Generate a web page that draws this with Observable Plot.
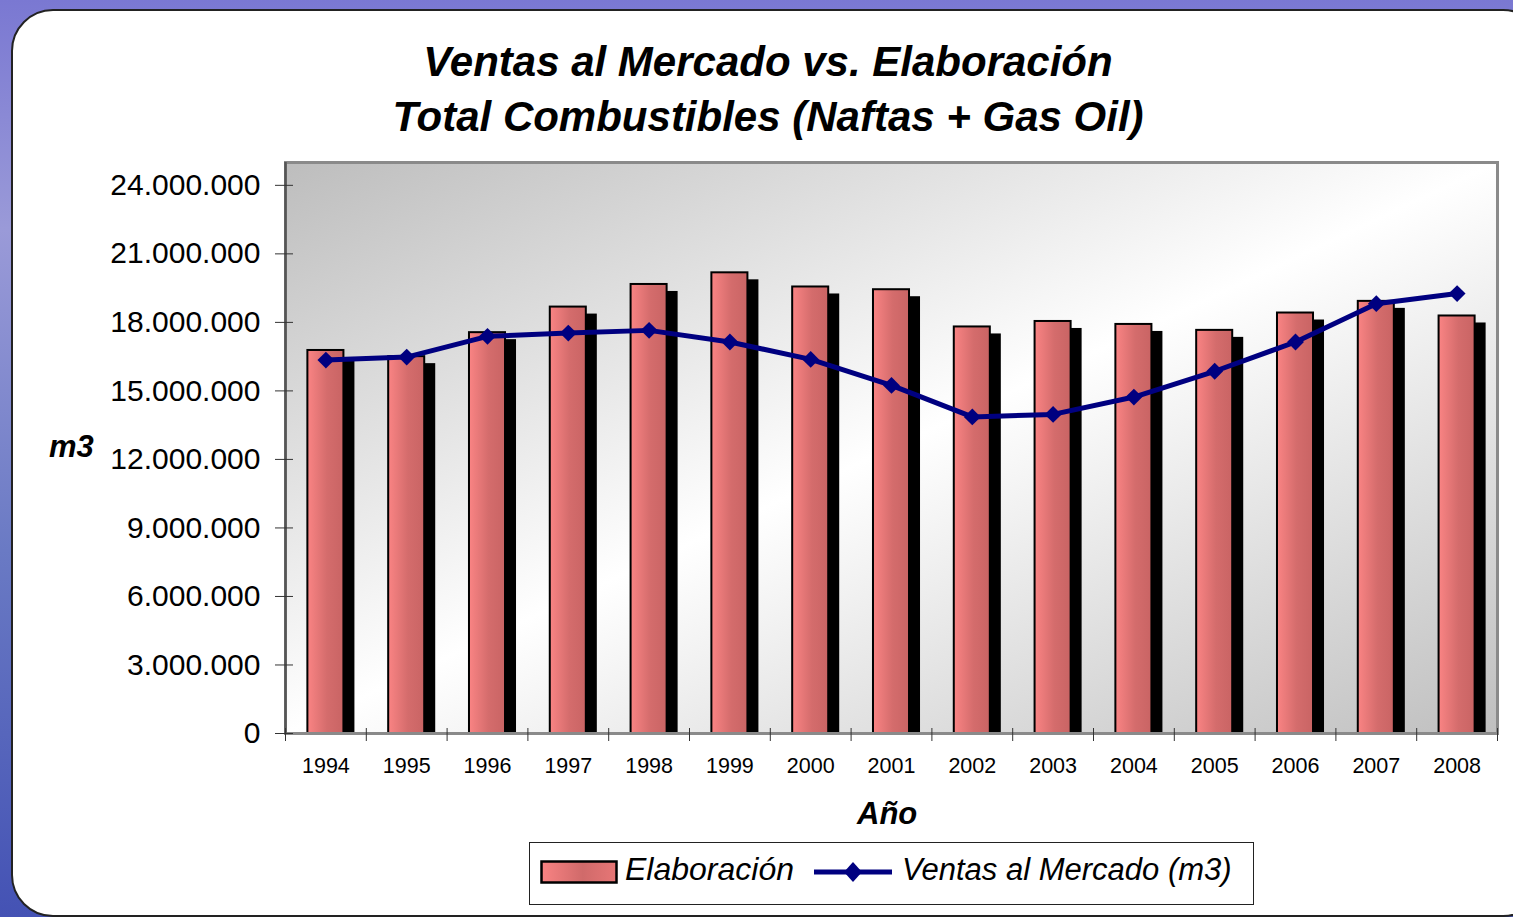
<!DOCTYPE html>
<html>
<head>
<meta charset="utf-8">
<script src="https://cdn.jsdelivr.net/npm/d3@7"></script>
<script src="https://cdn.jsdelivr.net/npm/@observablehq/plot@0.6"></script>
<style>
  html, body { margin: 0; padding: 0; }
  body {
    width: 1513px; height: 917px; overflow: hidden; position: relative;
    background: linear-gradient(180deg, #7a78d2 0%, #9a9ad8 25%, #6a7ac4 60%, #4452b4 100%);
    font-family: "Liberation Sans", Arial, sans-serif;
  }
  #card {
    position: absolute; left: 11px; top: 9px; width: 1530px; height: 904px;
    background: #fff; border: 2px solid #222; border-radius: 42px;
  }
  .title {
    position: absolute; left: 0; width: 1536px; text-align: center;
    font-weight: bold; font-style: italic; font-size: 42px; color: #000; white-space: nowrap;
  }
  #chart { position: absolute; left: 0; top: 140px; }
  .lab { position: absolute; font-weight: bold; font-style: italic; font-size: 31px; color: #000; }
  #legend {
    position: absolute; left: 529px; top: 842px; width: 723px; height: 61px;
    border: 1.5px solid #222; background: #fff;
  }
  #legend .item { position: absolute; font-style: italic; font-size: 31px; top: 9px; white-space: nowrap; }
</style>
</head>
<body>
<div id="card"></div>
<div class="title" style="top:38px">Ventas al Mercado vs. Elaboración</div>
<div class="title" style="top:93px">Total Combustibles (Naftas + Gas Oil)</div>
<div class="lab" style="left:49px; top:429px;">m3</div>
<div class="lab" style="left:857px; top:796px;">Año</div>
<div id="chart"></div>
<div id="legend">
  <svg style="position:absolute; left:10px; top:17px;" width="80" height="26">
    <defs>
      <linearGradient id="legGrad" x1="0" y1="0" x2="1" y2="0">
        <stop offset="0" stop-color="#f98383"/>
        <stop offset="0.55" stop-color="#d06a6a"/>
        <stop offset="1" stop-color="#e77676"/>
      </linearGradient>
    </defs>
    <rect x="1.5" y="1.5" width="75" height="21" fill="url(#legGrad)" stroke="#000" stroke-width="2.5"/>
  </svg>
  <div class="item" style="left:95px; font-size:32px; top:8px;">Elaboración</div>
  <svg style="position:absolute; left:282px; top:15px;" width="84" height="30">
    <line x1="2" y1="14" x2="80" y2="14" stroke="#000080" stroke-width="5"/>
    <path d="M41,4 L50,14 L41,24 L32,14 Z" fill="#000080"/>
  </svg>
  <div class="item" style="left:372px;">Ventas al Mercado (m3)</div>
</div>
<script>
// ---- data (m3) ----
const years = [1994, 1995, 1996, 1997, 1998, 1999, 2000, 2001, 2002, 2003, 2004, 2005, 2006, 2007, 2008];
const elaboracion = [16770000, 16500000, 17550000, 18670000, 19660000, 20170000, 19550000, 19430000, 17800000, 18040000, 17910000, 17650000, 18410000, 18920000, 18280000];
const ventas = [16350000, 16480000, 17390000, 17530000, 17650000, 17140000, 16380000, 15240000, 13860000, 13970000, 14730000, 15860000, 17140000, 18820000, 19260000];
const yTicks = [0, 3000000, 6000000, 9000000, 12000000, 15000000, 18000000, 21000000, 24000000];

const data = years.map((y, i) => ({year: y, elab: elaboracion[i], ventas: ventas[i]}));
const boundaries = years.map(y => y - 0.5).concat([years[years.length - 1] + 0.5]);
const halfBar = 0.223;
const fmt = d => d3.format(",")(d).replace(/,/g, ".");

const chart = Plot.plot({
  width: 1513,
  height: 660,
  marginTop: 22,
  marginBottom: 67,
  marginLeft: 285,
  marginRight: 16,
  style: {fontFamily: "'Liberation Sans', Arial, sans-serif", fontSize: "30px", color: "#000", background: "transparent", overflow: "visible"},
  x: {type: "linear", domain: [boundaries[0], boundaries[boundaries.length - 1]], axis: null, label: null},
  y: {domain: [0, 25000000], axis: null, label: null},
  marks: [
    Plot.frame({fill: "url(#bgGrad)", stroke: null}),
    // shadow bars
    Plot.rect(data, {x1: d => d.year - halfBar, x2: d => d.year + halfBar, y1: 0, y2: "elab", fill: "#000", dx: 11, dy: 7, insetBottom: 7}),
    // bars
    Plot.rect(data, {x1: d => d.year - halfBar, x2: d => d.year + halfBar, y1: 0, y2: "elab", fill: "url(#barGrad)", stroke: "#000", strokeWidth: 2}),
    Plot.frame({stroke: "#8a8a8a", strokeWidth: 3}),
    Plot.ruleX([boundaries[0]], {stroke: "#555", strokeWidth: 2.5}),
    // y axis
    Plot.axisY({ticks: yTicks, tickSize: 10, tickFormat: () => "", stroke: "#333", label: null}),
    Plot.axisY({ticks: yTicks, tickSize: -8, tickFormat: () => "", stroke: "#333", label: null}),
    Plot.axisY({ticks: yTicks, tickSize: 0, tickPadding: 25, tickFormat: fmt, fontSize: 30, label: null}),
    // x axis
    Plot.axisX({ticks: boundaries, tickSize: 8, tickFormat: () => "", stroke: "#333", label: null}),
    Plot.axisX({ticks: boundaries, tickSize: -5, tickFormat: () => "", stroke: "#333", label: null}),
    Plot.axisX({ticks: years, tickSize: 0, tickPadding: 24, tickFormat: d => String(d), fontSize: 21.5, label: null}),
    // line
    Plot.line(data, {x: "year", y: "ventas", stroke: "#000080", strokeWidth: 5}),
    Plot.dot(data, {x: "year", y: "ventas", symbol: "diamond2", r: 7.6, fill: "#000080", stroke: "none"})
  ]
});

d3.select(chart).insert("defs", ":first-child").html(`
  <linearGradient id="bgGrad" x1="0" y1="0" x2="1" y2="1">
    <stop offset="0" stop-color="#bdbdbd"/>
    <stop offset="0.5" stop-color="#ffffff"/>
    <stop offset="1" stop-color="#bfbfbf"/>
  </linearGradient>
  <linearGradient id="barGrad" x1="0" y1="0" x2="1" y2="0">
    <stop offset="0" stop-color="#fa8484"/>
    <stop offset="0.55" stop-color="#d46c6c"/>
    <stop offset="1" stop-color="#c96464"/>
  </linearGradient>
`);

document.getElementById("chart").appendChild(chart);
</script>
</body>
</html>
